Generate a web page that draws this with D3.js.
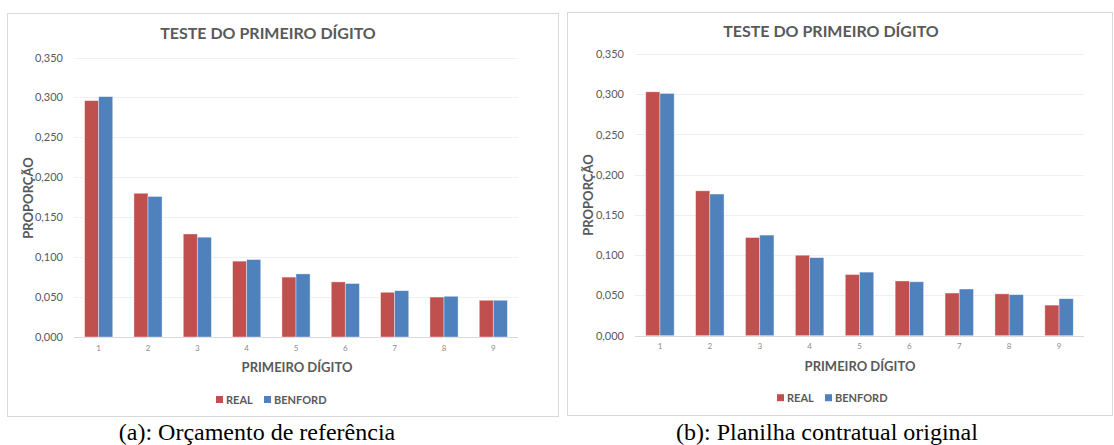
<!DOCTYPE html>
<html>
<head>
<meta charset="utf-8">
<script src="https://cdn.jsdelivr.net/npm/d3@7"></script>
<style>
  body { margin: 0; background: #fff; }
  svg { display: block; }
</style>
</head>
<body>
<svg id="drawing_region"></svg>
<script>
// data
const digits = ['1', '2', '3', '4', '5', '6', '7', '8', '9'];
const benford = [0.301, 0.176, 0.125, 0.097, 0.079, 0.067, 0.058, 0.051, 0.046];
const realA = [0.296, 0.180, 0.129, 0.095, 0.075, 0.069, 0.056, 0.050, 0.046];
const realB = [0.303, 0.180, 0.122, 0.100, 0.076, 0.068, 0.053, 0.052, 0.038];
const yTicks = [0, 0.05, 0.10, 0.15, 0.20, 0.25, 0.30, 0.35];
const seriesNames = ['REAL', 'BENFORD'];
const seriesColors = ['#c0504d', '#4f81bd'];

const svg = d3.select('#drawing_region')
    .attr('width', 1114)
    .attr('height', 445);

const font = 'Lato, "Open Sans", sans-serif';
const fmt = v => d3.format('.3f')(v).replace('.', ',');

function drawPanel( config, real ) {
    const g = svg.append('g');

    g.append('rect')
        .attr('x', config.frame[0] + 0.5)
        .attr('y', config.frame[1] + 0.5)
        .attr('width', config.frame[2])
        .attr('height', config.frame[3])
        .attr('fill', '#fff')
        .attr('stroke', '#d9d9d9');

    const xscale = d3.scaleBand()
        .domain( digits )
        .range( [config.left, config.right] )
        .paddingInner(0.43)
        .paddingOuter(0.215);

    const sub = d3.scaleBand()
        .domain( seriesNames )
        .range( [0, xscale.bandwidth()] );

    const yscale = d3.scaleLinear()
        .domain( [0, 0.35] )
        .range( [config.bottom, config.top] );

    // gridlines
    g.append('g')
        .selectAll('line')
        .data( yTicks )
        .join('line')
        .attr('x1', config.left)
        .attr('x2', config.right)
        .attr('y1', d => Math.round(yscale(d)) + 0.5)
        .attr('y2', d => Math.round(yscale(d)) + 0.5)
        .attr('stroke', d => d === 0 ? '#d9d9d9' : '#f0f0f0')
        .attr('stroke-width', 1);

    // y axis labels
    const yaxis = d3.axisLeft( yscale )
        .tickValues( yTicks )
        .tickFormat( fmt )
        .tickSize(0)
        .tickPadding( config.left - config.ylabelRight );
    const yg = g.append('g')
        .attr('transform', `translate(${config.left},0)`)
        .call( yaxis );
    yg.select('.domain').remove();
    yg.selectAll('text')
        .style('font-family', font)
        .style('font-size', '11px')
        .attr('fill', '#595959');

    // x axis labels
    const xaxis = d3.axisBottom( xscale )
        .tickSize(0)
        .tickPadding(8);
    const xg = g.append('g')
        .attr('transform', `translate(0,${config.bottom})`)
        .call( xaxis );
    xg.select('.domain').remove();
    xg.selectAll('text')
        .style('font-family', font)
        .style('font-size', '8px')
        .attr('fill', '#8c8c8c');

    // bars
    const rows = digits.map( (d, i) => ({ digit: d, values: [real[i], benford[i]] }) );
    g.append('g')
        .selectAll('g')
        .data( rows )
        .join('g')
        .attr('transform', d => `translate(${xscale(d.digit)},0)`)
        .selectAll('rect')
        .data( d => d.values.map( (v, j) => ({ name: seriesNames[j], value: v, color: seriesColors[j] }) ) )
        .join('rect')
        .attr('x', d => sub(d.name))
        .attr('y', d => yscale(d.value))
        .attr('width', sub.bandwidth())
        .attr('height', d => yscale(0) - yscale(d.value))
        .attr('fill', d => d.color)
        .attr('stroke', '#ffffff')
        .attr('stroke-opacity', 0.5)
        .attr('stroke-width', 0.75);

    // title
    g.append('text')
        .attr('x', config.titleX)
        .attr('y', config.titleY)
        .attr('text-anchor', 'middle')
        .style('font-family', font)
        .style('font-size', '16px')
        .style('font-weight', 'bold')
        .attr('fill', '#595959')
        .text('TESTE DO PRIMEIRO DÍGITO');

    // axis titles
    g.append('text')
        .attr('x', config.xtitleX)
        .attr('y', config.xtitleY)
        .attr('text-anchor', 'middle')
        .style('font-family', font)
        .style('font-size', '13px')
        .style('font-weight', 'bold')
        .attr('fill', '#595959')
        .text('PRIMEIRO DÍGITO');

    g.append('text')
        .attr('transform', `translate(${config.ytitleX},${config.ytitleY}) rotate(-90)`)
        .attr('text-anchor', 'middle')
        .style('font-family', font)
        .style('font-size', '13px')
        .style('font-weight', 'bold')
        .attr('fill', '#595959')
        .text('PROPORÇÃO');

    // legend
    const legend = g.append('g')
        .attr('transform', `translate(${config.legendX},${config.legendY})`);
    const offsets = [0, 48];
    seriesNames.forEach( (name, j) => {
        legend.append('rect')
            .attr('x', offsets[j])
            .attr('y', -3.5)
            .attr('width', 7)
            .attr('height', 7)
            .attr('fill', seriesColors[j]);
        legend.append('text')
            .attr('x', offsets[j] + 10)
            .attr('y', 4)
            .style('font-family', font)
            .style('font-size', '11px')
            .style('font-weight', 'bold')
            .attr('fill', '#595959')
            .text(name);
    });

    // caption
    svg.append('text')
        .attr('x', config.captionX)
        .attr('y', 440)
        .attr('text-anchor', 'middle')
        .style('font-family', '"Liberation Serif", "Times New Roman", serif')
        .style('font-size', '24px')
        .attr('fill', '#000')
        .text(config.caption);
}

drawPanel({
    frame: [7, 13, 551, 403],
    left: 74, right: 518, top: 57.5, bottom: 337,
    ylabelRight: 63,
    titleX: 268, titleY: 39,
    xtitleX: 297, xtitleY: 372,
    ytitleX: 33, ytitleY: 198,
    legendX: 216, legendY: 399.5,
    captionX: 257,
    caption: '(a): Orçamento de referência'
}, realA);

drawPanel({
    frame: [567, 12, 545, 403],
    left: 635, right: 1084, top: 54, bottom: 335.7,
    ylabelRight: 624,
    titleX: 831, titleY: 37,
    xtitleX: 860, xtitleY: 370.5,
    ytitleX: 593, ytitleY: 195,
    legendX: 777, legendY: 397.7,
    captionX: 827,
    caption: '(b): Planilha contratual original'
}, realB);
</script>
</body>
</html>
